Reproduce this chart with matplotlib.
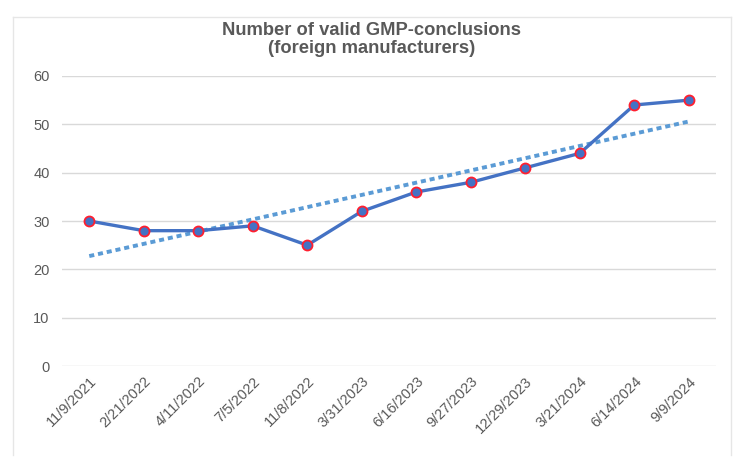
import numpy as np
import matplotlib
matplotlib.use('Agg')
import matplotlib.pyplot as plt
from matplotlib.lines import Line2D

dates = ['11/9/2021', '2/21/2022', '4/11/2022', '7/5/2022', '11/8/2022',
         '3/31/2023', '6/16/2023', '9/27/2023', '12/29/2023', '3/21/2024',
         '6/14/2024', '9/9/2024']
counts = [30, 28, 28, 29, 25, 32, 36, 38, 41, 44, 54, 55]

plt.rcParams['font.family'] = ['Liberation Sans', 'DejaVu Sans']
gray = '#595959'

fig = plt.figure(figsize=(7.5, 4.74), dpi=100)
ax = fig.add_axes([0.0827, 0.2278, 0.872, 0.6119])

x = np.arange(len(dates))
# linear trendline
k, b = np.polyfit(x, counts, 1)
ax.plot(x, k * x + b, color='#5B9BD5', lw=2.8, ls=(0, (1.3, 1.0)), zorder=2)
ax.plot(x, counts, color='#4472C4', lw=2.4, marker='o', ms=7.2,
        mfc='#4472C4', mec='#FF1F2F', mew=1.3, zorder=3)

ax.set_xlim(-0.5, len(dates) - 0.5)
ax.set_ylim(0, 60)
ax.set_yticks(range(0, 61, 10))
ax.set_xticks(x)
ax.set_xticklabels(dates, rotation=45, ha='right', rotation_mode='anchor')
ax.tick_params(length=0, colors=gray, labelsize=10.5)
ax.tick_params(axis='y', pad=9)
ax.tick_params(axis='x', pad=6)
ax.grid(axis='y', color='#D9D9D9', lw=1)
ax.set_axisbelow(True)
for s in ax.spines.values():
    s.set_visible(False)

fig.text(0.496, 0.917, 'Number of valid GMP-conclusions\n(foreign manufacturers)',
         ha='center', va='center', fontsize=13.2, fontweight='bold', color=gray,
         linespacing=1.12)

# outer frame (open at the bottom)
fc = '#E6E6E6'
fig.add_artist(Line2D([0.0173, 0.0173], [0.04, 0.9641], color=fc, lw=1))
fig.add_artist(Line2D([0.0173, 0.975], [0.9641, 0.9641], color=fc, lw=1))
fig.add_artist(Line2D([0.975, 0.975], [0.04, 0.9641], color=fc, lw=1))

fig.savefig('out.png', dpi=100)
